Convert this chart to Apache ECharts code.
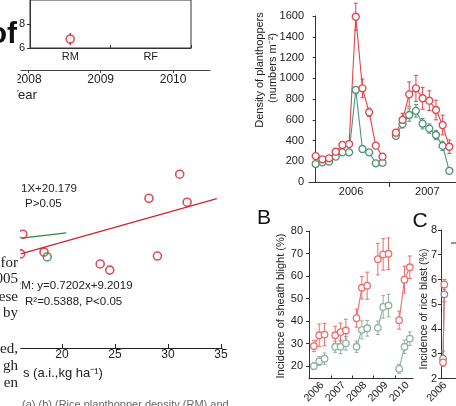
<!DOCTYPE html>
<html><head><meta charset="utf-8">
<script src="https://cdn.jsdelivr.net/npm/echarts@6/dist/echarts.min.js"></script>
<style>html,body{margin:0;padding:0;background:#fff;}#c{width:456px;height:406px;}</style>
</head><body><div id="c"></div>
<script>
// ---------- Inset (top-left) ----------
const insetCats = ['RM', 'RF'];
const insetMean = [6.75, null];
const insetErr = [0.5, null];
const insetYTicks = [6, 8];
const yearTicks = [2008, 2009, 2010];

// ---------- Scatter (middle-left) ----------
const scatterRed = [[31.1, 39.7], [28.2, 34.2], [31.8, 33.3], [16.3, 26.0], [16.1, 21.5], [18.3, 21.9], [23.6, 19.2], [24.5, 17.8], [29.0, 21.0]];
const scatterGreen = [[18.6, 20.8]];
const fitRed = [[16.1, 21.5], [34.6, 34.1]];
const fitGreen = [[16.2, 25.1], [20.4, 26.3]];
const scatterXTicks = [20, 25, 30, 35];

// ---------- Panel A ----------
const aYears = ['2006', '2007'];
const aRed2006 = [250, 219, 228, 292, 357, 366, 1593, 903, 672, 350, 244];
const aRedErr2006 = [25, 20, 20, 25, 30, 30, 130, 90, 40, 25, 20];
const aGreen2006 = [173, 190, 196, 244, 286, 286, 887, 318, 286, 180, 186];
const aGreenErr2006 = [15, 15, 15, 15, 15, 15, 30, 20, 20, 15, 15];
const aRed2007 = [475, 598, 845, 903, 807, 784, 694, 549, 340];
const aRedErr2007 = [25, 65, 120, 125, 105, 95, 95, 95, 65];
const aGreen2007 = [445, 560, 646, 686, 562, 515, 453, 348, 108];
const aGreenErr2007 = [20, 40, 60, 60, 50, 45, 45, 45, 20];

// ---------- Panel B ----------
const bYears = ['2006', '2007', '2008', '2009', '2010'];
const bRed = [[28.9, 33.7, 34.0], [33.7, 35.1, 35.8], [41.3, 54.8, 55.7], [67.5, 69.6, 69.9], [40.4, 58.4, 63.9]];
const bRedErr = [[2.5, 5, 5], [4, 4, 5], [4, 5, 6], [7, 7, 7], [4, 6, 5]];
const bGreen = [[20.0, 22.2, 23.3], [28.6, 28.6, 30.1], [28.6, 36.1, 36.8], [37.0, 46.3, 46.9], [18.8, 28.6, 32.2]];
const bGreenErr = [[1.5, 2, 2.5], [2.5, 3, 3], [2.5, 4, 3.5], [3, 5, 5], [2, 3, 3]];
const bYTicks = [20, 30, 40, 50, 60, 70, 80];

// ---------- Panel C ----------
const cYears = ['2006'];
const cRed = [[2.65, 5.8]];
const cRedErr = [[0.15, 0.2]];
const cGrey = [[2.8, 5.4]];
const cGreyErr = [[0.3, 0.3]];

const withinYear = [0, 0.25, 0.5];

// ---------- builders ----------
function yearSeries(years, vals) {
  const out = [];
  vals.forEach((grp, yi) => {
    const y0 = +years[yi];
    grp.forEach((v, k) => out.push([y0 + withinYear[k], v]));
    out.push([y0 + 0.75, '-']);
  });
  return out;
}
function yearErr(years, vals, errs) {
  const out = [];
  vals.forEach((grp, yi) => {
    const y0 = +years[yi];
    grp.forEach((v, k) => out.push([y0 + withinYear[k], v, errs[yi][k]]));
  });
  return out;
}
const aStart2007 = aRed2006.length + 1;
function aLine(v06, v07) {
  const out = v06.map((v, i) => [i, v]);
  out.push([v06.length, '-']);
  v07.forEach((v, i) => out.push([aStart2007 + i, v]));
  return out;
}
function aErr(v06, e06, v07, e07) {
  const out = v06.map((v, i) => [i, v, e06[i]]);
  v07.forEach((v, i) => out.push([aStart2007 + i, v, e07[i]]));
  return out;
}

function errRender(cap, color, w) {
  return function (params, api) {
    const x = api.value(0), y = api.value(1), e = api.value(2);
    const lo = api.coord([x, y - e]), hi = api.coord([x, y + e]);
    const st = { stroke: color, lineWidth: w };
    return { type: 'group', children: [
      { type: 'line', shape: { x1: lo[0], y1: lo[1], x2: hi[0], y2: hi[1] }, style: st },
      { type: 'line', shape: { x1: hi[0] - cap, y1: hi[1], x2: hi[0] + cap, y2: hi[1] }, style: st },
      { type: 'line', shape: { x1: lo[0] - cap, y1: lo[1], x2: lo[0] + cap, y2: lo[1] }, style: st }
    ] };
  };
}
function errSeries(idx, data, color, cap, w) {
  return { type: 'custom', xAxisIndex: idx, yAxisIndex: idx, data: data, z: 1, silent: true,
    renderItem: errRender(cap, color, w), encode: { x: 0, y: 1 } };
}
function lineSeries(idx, data, color, size, lw) {
  return { type: 'line', xAxisIndex: idx, yAxisIndex: idx, data: data, z: 2, silent: true,
    symbol: 'circle', symbolSize: size, showSymbol: true, connectNulls: false,
    lineStyle: { color: color, width: lw }, itemStyle: { color: '#fff', borderColor: color, borderWidth: 1.3 } };
}

const FONT = 'Liberation Sans';
const AX = '#333';
const axLine = { show: true, lineStyle: { color: AX, width: 1 } };

const redA = '#e0444b', greenA = '#4f9377';
const redB = '#ec6e6e', greenB = '#90b2a2';
const redS = '#d2232f', greenS = '#2b8a3c';

const chart = echarts.init(document.getElementById('c'), null, { renderer: 'canvas' });
chart.setOption({
  animation: false,
  backgroundColor: '#fff',
  textStyle: { fontFamily: FONT },
  grid: [
    { left: 30, top: -2, width: 161, height: 50, show: true, borderColor: AX, borderWidth: 1, backgroundColor: 'transparent' },
    { left: 21, top: 60, width: 189, height: 10 },
    { left: 20.7, top: 151, width: 201.4, height: 197 },
    { left: 309, top: 16, width: 154, height: 166 },
    { left: 309, top: 231, width: 104, height: 152 },
    { left: 441, top: 230, width: 107, height: 152 }
  ],
  xAxis: [
    { gridIndex: 0, type: 'category', data: insetCats, axisLine: axLine,
      axisTick: { show: true, inside: true, length: 3, lineStyle: { color: AX } },
      axisLabel: { fontSize: 11, color: '#222', margin: 3, fontFamily: FONT } },
    { gridIndex: 1, type: 'value', min: 2007.9, max: 2010.51, axisLine: { show: true, lineStyle: { color: '#444' } },
      splitLine: { show: false },
      axisTick: { show: true, length: 3, customValues: yearTicks, lineStyle: { color: '#444' } },
      axisLabel: { fontSize: 12, color: '#222', margin: 4, customValues: yearTicks, fontFamily: FONT, formatter: v => String(v) } },
    { gridIndex: 2, type: 'value', min: 16.1, max: 35.1, axisLine: { show: true, lineStyle: { color: '#222' } },
      splitLine: { show: false },
      axisTick: { show: true, inside: true, length: 4, customValues: scatterXTicks, lineStyle: { color: '#222' } },
      axisLabel: { fontSize: 12, color: '#222', margin: 1, customValues: scatterXTicks, fontFamily: FONT, formatter: v => String(v) } },
    { gridIndex: 3, type: 'value', min: -1, max: 21, axisLine: axLine, splitLine: { show: false },
      axisTick: { show: true, length: 5, customValues: [aRed2006.length], lineStyle: { color: AX } },
      axisLabel: { fontSize: 11, color: '#222', margin: 4, customValues: [5.3, 16.7], fontFamily: FONT,
        formatter: v => aYears[v < aRed2006.length ? 0 : 1] } },
    { gridIndex: 4, type: 'value', min: 2005.77, max: 2010.65, axisLine: axLine, splitLine: { show: false },
      axisTick: { show: true, inside: true, length: 3, customValues: bYears.slice(1).map(y => +y - 0.2), lineStyle: { color: AX } },
      axisLabel: { fontSize: 10.5, color: '#222', margin: 5, rotate: 45, fontFamily: FONT,
        customValues: bYears.map(y => +y + 0.4), formatter: v => bYears[Math.round(v - 0.4) - 2006] } },
    { gridIndex: 5, type: 'value', min: 2005.62, max: 2010.65, axisLine: axLine, splitLine: { show: false },
      axisTick: { show: false },
      axisLabel: { fontSize: 10.5, color: '#222', margin: 5, rotate: 45, fontFamily: FONT,
        customValues: cYears.map(y => +y + 0.4), formatter: v => cYears[Math.round(v - 0.4) - 2006] } }
  ],
  yAxis: [
    { gridIndex: 0, type: 'value', min: 6, max: 10, interval: 2, axisLine: axLine, splitLine: { show: false },
      axisTick: { show: true, length: 3, lineStyle: { color: AX } },
      axisLabel: { fontSize: 11, color: '#222', margin: 5, fontFamily: FONT, showMaxLabel: false,
        formatter: v => insetYTicks.indexOf(v) >= 0 ? String(v) : '' } },
    { gridIndex: 1, type: 'value', min: 0, max: 1, show: false },
    { gridIndex: 2, type: 'value', min: 0, max: 45, show: false },
    { gridIndex: 3, type: 'value', min: 0, max: 1600, interval: 200, axisLine: axLine, splitLine: { show: false },
      axisTick: { show: true, length: 3, lineStyle: { color: AX } },
      axisLabel: { fontSize: 11, color: '#222', margin: 5, fontFamily: FONT, formatter: v => String(v) } },
    { gridIndex: 4, type: 'value', min: 14.5, max: 80, axisLine: axLine, splitLine: { show: false },
      axisTick: { show: true, length: 3, customValues: bYTicks, lineStyle: { color: AX } },
      axisLabel: { fontSize: 11, color: '#222', margin: 6, customValues: bYTicks, fontFamily: FONT, formatter: v => String(v) } },
    { gridIndex: 5, type: 'value', min: 2, max: 8, interval: 1, axisLine: axLine, splitLine: { show: false },
      axisTick: { show: true, length: 3, lineStyle: { color: AX } },
      axisLabel: { fontSize: 11, color: '#222', margin: 4, fontFamily: FONT, formatter: v => String(v) } }
  ],
  series: [
    // inset
    errSeries(0, insetCats.map((c, i) => insetMean[i] == null ? null : [i, insetMean[i], insetErr[i]]).filter(Boolean), redS, 0, 1.3),
    { type: 'scatter', xAxisIndex: 0, yAxisIndex: 0, z: 2, silent: true, symbolSize: 8,
      data: insetCats.map((c, i) => insetMean[i] == null ? null : [i, insetMean[i]]).filter(Boolean),
      itemStyle: { color: '#fff', borderColor: redS, borderWidth: 1.6 } },
    // scatter
    { type: 'line', xAxisIndex: 2, yAxisIndex: 2, data: fitRed, showSymbol: false, silent: true, z: 1,
      lineStyle: { color: redS, width: 1.3 } },
    { type: 'line', xAxisIndex: 2, yAxisIndex: 2, data: fitGreen, showSymbol: false, silent: true, z: 1,
      lineStyle: { color: greenS, width: 1.3 } },
    { type: 'scatter', xAxisIndex: 2, yAxisIndex: 2, data: scatterRed, symbolSize: 8, silent: true, clip: false, z: 2,
      itemStyle: { color: 'rgba(255,255,255,0)', borderColor: redS, borderWidth: 1.6 } },
    { type: 'scatter', xAxisIndex: 2, yAxisIndex: 2, data: scatterGreen, symbolSize: 8, silent: true, clip: false, z: 2,
      itemStyle: { color: 'rgba(255,255,255,0)', borderColor: greenS, borderWidth: 1.6 } },
    // A
    errSeries(3, aErr(aGreen2006, aGreenErr2006, aGreen2007, aGreenErr2007), greenA, 2, 1),
    errSeries(3, aErr(aRed2006, aRedErr2006, aRed2007, aRedErr2007), redA, 2, 1),
    lineSeries(3, aLine(aGreen2006, aGreen2007), greenA, 7, 1.1),
    lineSeries(3, aLine(aRed2006, aRed2007), redA, 7, 1.1),
    // B
    errSeries(4, yearErr(bYears, bGreen, bGreenErr), greenB, 2, 1),
    errSeries(4, yearErr(bYears, bRed, bRedErr), redB, 2, 1),
    lineSeries(4, yearSeries(bYears, bGreen), greenB, 6.5, 1.1),
    lineSeries(4, yearSeries(bYears, bRed), redB, 6.5, 1.1),
    // C
    errSeries(5, yearErr(cYears, cGrey, cGreyErr), '#8a8a8a', 2, 1),
    errSeries(5, yearErr(cYears, cRed, cRedErr), redB, 2, 1),
    lineSeries(5, yearSeries(cYears, cGrey), '#8a8a8a', 6.5, 1.1),
    lineSeries(5, yearSeries(cYears, cRed), redB, 6.5, 1.1)
  ],
  graphic: [
    { type: 'rect', shape: { x: 0, y: 55, width: 17.5, height: 50 }, style: { fill: '#fff' }, z: 100 },
    { type: 'rect', shape: { x: 0, y: 150, width: 20, height: 256 }, style: { fill: '#fff' }, z: 100 },
    { type: 'text', x: 10.5, y: 95, z: 99, style: { text: 'Year', font: '13px "Liberation Sans"', fill: '#222', verticalAlign: 'middle' } },
    { type: 'text', x: 17, y: 35, z: 101, style: { text: 'of', font: 'bold 30px "Liberation Sans"', fill: '#111', align: 'right', verticalAlign: 'middle' } },
    // scatter annotations
    { type: 'text', x: 21, y: 189, z: 99, style: { text: '1X+20.179', font: '11.5px "Liberation Sans"', fill: '#222', verticalAlign: 'middle' } },
    { type: 'text', x: 25, y: 204, z: 99, style: { text: 'P>0.05', font: '11.5px "Liberation Sans"', fill: '#222', verticalAlign: 'middle' } },
    { type: 'text', x: 13, y: 286, z: 99, style: { text: 'RM: y=0.7202x+9.2019', font: '11.5px "Liberation Sans"', fill: '#222', verticalAlign: 'middle' } },
    { type: 'text', x: 25, y: 302, z: 99, style: { text: 'R\u00b2=0.5388, P<0.05', font: '11.5px "Liberation Sans"', fill: '#222', verticalAlign: 'middle' } },
    { type: 'text', x: 23, y: 373, z: 99, style: { text: 's (a.i.,kg ha\u207b\u00b9)', font: '13px "Liberation Sans"', fill: '#222', verticalAlign: 'middle' } },
    { type: 'text', x: 22, y: 405, z: 99, style: { text: '(a) (b) (Rice planthopper density (RM) and', font: '11px "Liberation Sans"', fill: '#666', verticalAlign: 'middle' } },
    // page text column
    { type: 'text', x: 18, y: 263, z: 101, style: { text: 'for', font: '15px "Liberation Serif"', fill: '#222', align: 'right', verticalAlign: 'middle' } },
    { type: 'text', x: 18, y: 279, z: 101, style: { text: '2005', font: '15px "Liberation Serif"', fill: '#222', align: 'right', verticalAlign: 'middle' } },
    { type: 'text', x: 18, y: 297, z: 101, style: { text: 'ese', font: '15px "Liberation Serif"', fill: '#222', align: 'right', verticalAlign: 'middle' } },
    { type: 'text', x: 18, y: 313, z: 101, style: { text: 'by', font: '15px "Liberation Serif"', fill: '#222', align: 'right', verticalAlign: 'middle' } },
    { type: 'text', x: 18, y: 349, z: 101, style: { text: 'ed,', font: '15px "Liberation Serif"', fill: '#222', align: 'right', verticalAlign: 'middle' } },
    { type: 'text', x: 18, y: 366, z: 101, style: { text: 'gh', font: '15px "Liberation Serif"', fill: '#222', align: 'right', verticalAlign: 'middle' } },
    { type: 'text', x: 18, y: 383, z: 101, style: { text: 'en', font: '15px "Liberation Serif"', fill: '#222', align: 'right', verticalAlign: 'middle' } },
    // right panels
    { type: 'text', x: 260, y: 70, rotation: Math.PI / 2, z: 99, style: { text: 'Density of planthoppers', font: '11px "Liberation Sans"', fill: '#222', align: 'center', verticalAlign: 'middle' } },
    { type: 'text', x: 273, y: 68, rotation: Math.PI / 2, z: 99, style: { text: '(numbers m\u207b\u00b2)', font: '11px "Liberation Sans"', fill: '#222', align: 'center', verticalAlign: 'middle' } },
    { type: 'text', x: 264, y: 218, z: 99, style: { text: 'B', font: '21px "Liberation Sans"', fill: '#111', align: 'center', verticalAlign: 'middle' } },
    { type: 'text', x: 420, y: 221, z: 99, style: { text: 'C', font: '21px "Liberation Sans"', fill: '#111', align: 'center', verticalAlign: 'middle' } },
    { type: 'text', x: 281, y: 306, rotation: Math.PI / 2, z: 99, style: { text: 'Incidence of sheath blight (%)', font: '11px "Liberation Sans"', fill: '#222', align: 'center', verticalAlign: 'middle' } },
    { type: 'text', x: 424, y: 309, rotation: Math.PI / 2, z: 99, style: { text: 'Incidence of rice blast (%)', font: '10.5px "Liberation Sans"', fill: '#222', align: 'center', verticalAlign: 'middle' } },
    { type: 'line', shape: { x1: 451, y1: 243, x2: 456, y2: 243 }, style: { stroke: '#222', lineWidth: 1 }, z: 99 }
  ]
});
</script></body></html>
